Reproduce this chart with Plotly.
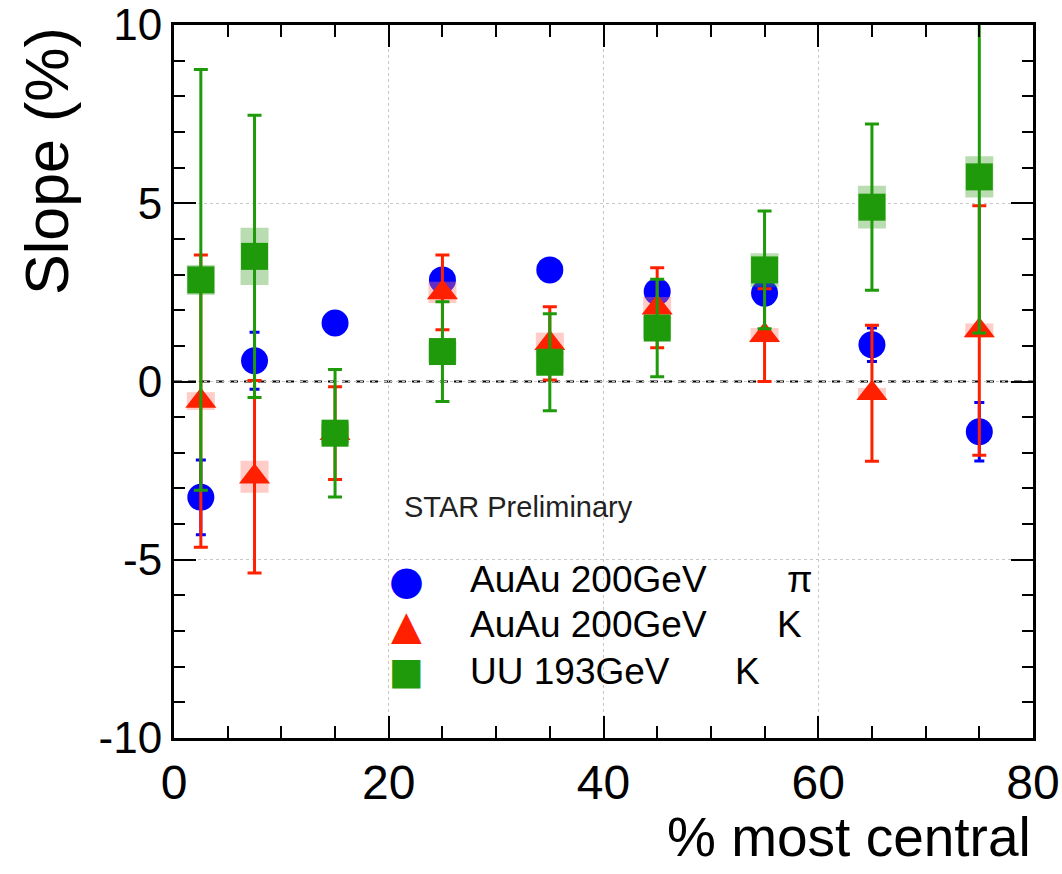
import plotly.graph_objects as go

# Centrality bins (% most central)
centrality = [2.5, 7.5, 15, 25, 35, 45, 55, 65, 75]

# AuAu 200 GeV, pions
pi_auau = [-3.25, 0.58, 1.64, 2.85, 3.13, 2.52, 2.48, 1.03, -1.41]
pi_auau_err = [1.05, 0.80, 0.30, 0.30, 0.30, 0.30, 0.30, 0.47, 0.82]

# AuAu 200 GeV, kaons
k_auau = [-0.55, -2.67, -1.45, 2.50, 1.07, 2.07, 1.30, -0.33, 1.43]
k_auau_err = [4.10, 2.70, 1.30, 1.05, 1.03, 1.12, 1.30, 1.91, 3.50]
k_auau_sys = [0.25, 0.45, 0.20, 0.30, 0.30, 0.30, 0.20, 0.15, 0.20]

# UU 193 GeV, kaons
k_uu = [2.85, 3.51, -1.45, 0.84, 0.54, 1.50, 3.13, 4.89, 5.74]
k_uu_err = [5.90, 3.96, 1.79, 1.40, 1.36, 1.37, 1.65, 2.33, 4.38]
k_uu_sys = [0.42, 0.80, 0.30, 0.30, 0.30, 0.30, 0.47, 0.60, 0.58]

# axis ticks
x_ticks = [0, 20, 40, 60, 80]
y_ticks = [-10, -5, 0, 5, 10]

BLUE = "#0000ff"
RED = "#ff2000"
GREEN = "#1f9a0a"

fig = go.Figure()


def sys_boxes(y, sys, color):
    # systematic uncertainty drawn as a thick, capless error bar
    fig.add_trace(go.Scatter(
        x=centrality, y=y, mode="markers",
        marker=dict(size=1, opacity=0),
        error_y=dict(type="data", array=sys, visible=True,
                     color=color, thickness=28, width=0),
        showlegend=False, hoverinfo="skip"))


def points(y, err, color, symbol, size, cap):
    fig.add_trace(go.Scatter(
        x=centrality, y=y, mode="markers",
        marker=dict(symbol=symbol, size=size, color=color,
                    line=dict(width=0)),
        error_y=dict(type="data", array=err, visible=True,
                     color=color, thickness=3, width=cap),
        showlegend=False))


points(pi_auau, pi_auau_err, BLUE, "circle", 27, 5)
sys_boxes(k_auau, k_auau_sys, "rgba(255,120,110,0.38)")
points(k_auau, k_auau_err, RED, "triangle-up", 27, 7)
sys_boxes(k_uu, k_uu_sys, "rgba(70,165,50,0.38)")
points(k_uu, k_uu_err, GREEN, "square", 27, 7)

axis_common = dict(
    showline=True, linecolor="black", linewidth=3, mirror="ticks",
    ticks="inside", tickcolor="black", tickwidth=2,
    showgrid=True, gridcolor="#c8c8c8", gridwidth=1, griddash="dot",
    zeroline=False, automargin=False, tickmode="array",
)

fig.update_xaxes(
    range=[0, 80], tickvals=x_ticks, ticktext=[str(v) for v in x_ticks],
    ticklen=22,
    minor=dict(dtick=5, tick0=0, ticks="inside", ticklen=12,
               tickcolor="black", tickwidth=2, showgrid=False),
    tickfont=dict(size=48, color="black"),
    **axis_common,
)
fig.update_yaxes(
    range=[-10, 10], tickvals=y_ticks, ticktext=[str(v) for v in y_ticks],
    ticklen=22,
    minor=dict(dtick=1, tick0=0, ticks="inside", ticklen=11,
               tickcolor="black", tickwidth=2, showgrid=False),
    tickfont=dict(size=44, color="black"),
    **axis_common,
)

# dashed reference line at zero slope
fig.add_shape(type="line", xref="paper", x0=0, x1=1, yref="y", y0=0, y1=0,
              line=dict(color="black", width=2, dash="8px,6px"), layer="below")

annotations = [
    dict(text="Slope (%)", textangle=-90, xref="paper", yref="paper",
         x=0, y=1, xanchor="center", yanchor="top", xshift=-127, yshift=0,
         showarrow=False, font=dict(size=61, color="black")),
    dict(text="% most central", xref="paper", yref="paper",
         x=1, y=0, xanchor="right", yanchor="middle", yshift=-99,
         showarrow=False, font=dict(size=55, color="black")),
    dict(text="STAR Preliminary", xref="paper", yref="paper",
         x=0.2654, y=0.324, xanchor="left", yanchor="middle",
         showarrow=False, font=dict(size=29, color="#222222")),
]

# legend block
legend_rows = [
    ("\u25CF", BLUE, 40, "AuAu 200GeV", "\u03C0", 0.7113, 0.2216),
    ("\u25B2", RED, 40, "AuAu 200GeV", "K", 0.6997, 0.1585),
    ("\u25A0", GREEN, 37, "UU 193GeV", "K", 0.6508, 0.0926),
]
for glyph, color, gsize, label, particle, px, py in legend_rows:
    annotations.append(dict(text=glyph, xref="paper", yref="paper",
                            x=0.2712, y=py, xanchor="center", yanchor="middle",
                            showarrow=False,
                            font=dict(size=gsize, color=color,
                                      family="DejaVu Sans")))
    annotations.append(dict(text=label, xref="paper", yref="paper",
                            x=0.3423, y=py, xanchor="left", yanchor="middle",
                            showarrow=False, font=dict(size=37, color="black")))
    annotations.append(dict(text=particle, xref="paper", yref="paper",
                            x=px, y=py, xanchor="left", yanchor="middle",
                            showarrow=False, font=dict(size=37, color="black")))

fig.update_layout(
    width=1062, height=874,
    margin=dict(l=174, r=29, t=25, b=136),
    paper_bgcolor="white", plot_bgcolor="white",
    font=dict(family="Liberation Sans, Arial, sans-serif", color="black"),
    annotations=annotations,
    showlegend=False,
)

fig.write_html("out.html")
